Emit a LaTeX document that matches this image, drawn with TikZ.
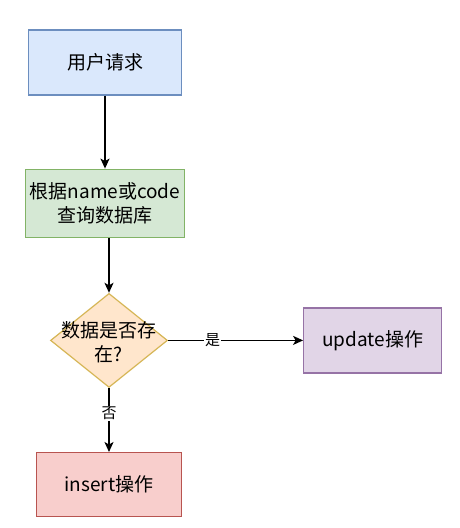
\documentclass[tikz,border=0pt]{standalone}
\usepackage{fontspec}
\setmainfont{Noto Sans CJK SC}
\usepackage{xcolor}
\usetikzlibrary{positioning,arrows.meta,shapes.geometric}
\definecolor{azulf}{HTML}{DAE8FC}\definecolor{azuld}{HTML}{6C8EBF}
\definecolor{verdef}{HTML}{D5E8D4}\definecolor{verded}{HTML}{82B366}
\definecolor{naranjaf}{HTML}{FFE6CC}\definecolor{naranjad}{HTML}{D6B656}
\definecolor{moradof}{HTML}{E1D5E7}\definecolor{moradod}{HTML}{9673A6}
\definecolor{rojof}{HTML}{F8CECC}\definecolor{rojod}{HTML}{B85450}

\begin{document}
\begin{tikzpicture}[font=\fontsize{19pt}{24pt}\selectfont,
      >={Stealth[length=10pt, width=9pt, inset=2.5pt]},
      b/.style={draw, align=center, line width=1.2pt, inner sep=2pt},
      flecha/.style={->, line width=1.5pt},
      etiq/.style={fill=white, inner sep=1pt, font=\fontsize{15pt}{17pt}\selectfont}]
    \useasboundingbox[fill=white] (0,0) rectangle (460pt,-528pt);
    \node[b, draw=azuld, fill=azulf, minimum width=153pt, minimum height=65pt]
        (req) at (105pt,-62.5pt) {用户请求};
    \node[b, draw=verded, fill=verdef, minimum width=159pt, minimum height=68pt,
          below=73pt of req] (query) {根据name或code\\查询数据库};
    \node[diamond, draw=naranjad, fill=naranjaf, line width=1.2pt, inner sep=0pt,
          minimum width=117pt, minimum height=94pt, below=55pt of query, xshift=4pt,
          label={[align=center, yshift=-2pt]center:数据是否存\\在?}] (dia) {};
    \node[b, draw=moradod, fill=moradof, minimum width=138pt, minimum height=65pt,
          right=135pt of dia] (upd) {update操作};
    \node[b, draw=rojod, fill=rojof, minimum width=145pt, minimum height=64pt,
          below=64pt of dia] (ins) {insert操作};
    \draw[flecha] (req) -- (query);
    \draw[flecha] (dia.north |- query.south) -- (dia.north);
    \draw[flecha] (dia) -- node[etiq, pos=0.33]{是} (upd);
    \draw[flecha] (dia) -- node[etiq, pos=0.4]{否} (ins);
  \end{tikzpicture}
\end{document}
